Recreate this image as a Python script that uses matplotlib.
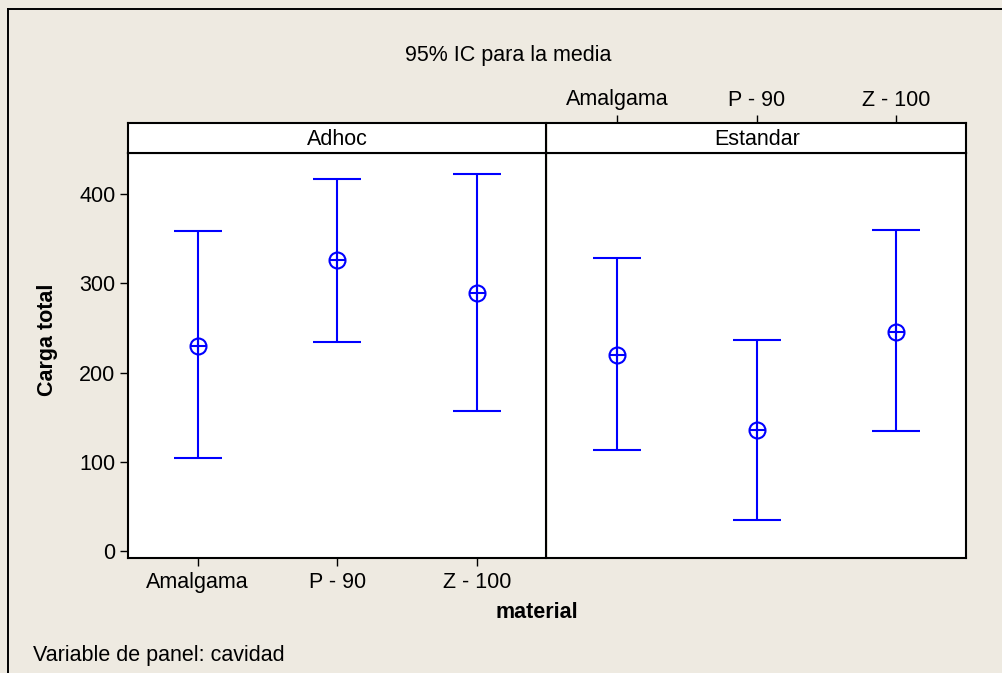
import matplotlib.pyplot as plt
from matplotlib.lines import Line2D

plt.rcParams['font.family'] = ['Liberation Sans', 'DejaVu Sans']

# data
materials = ["Amalgama", "P - 90", "Z - 100"]
panels = ["Adhoc", "Estandar"]
means_adhoc = [230, 326, 289]
lower_adhoc = [104, 235, 157]
upper_adhoc = [359, 417, 423]
means_estandar = [220, 136, 246]
lower_estandar = [113, 35, 135]
upper_estandar = [329, 237, 360]

bg = "#eeeae1"
blue = "#0000ff"
W, H = 1003, 673

fig = plt.figure(figsize=(W / 100, H / 100), dpi=100, facecolor=bg)

def fx(px):
    return px / W

def fy(py):
    return 1 - py / H

# frame lines at top and left of the figure
fig.add_artist(Line2D([fx(8), 1], [fy(8.5), fy(8.5)], color="black", lw=1.4))
fig.add_artist(Line2D([fx(8), fx(8)], [fy(8.5), 0], color="black", lw=1.4))

ax_bottom, ax_top = 558, 152.5
strip_top = 123
lefts = [128, 547.5]
width = 418.5

x = list(range(len(materials)))
data = [(means_adhoc, lower_adhoc, upper_adhoc),
        (means_estandar, lower_estandar, upper_estandar)]

for i, name in enumerate(panels):
    ax = fig.add_axes([fx(lefts[i]), fy(ax_bottom), fx(width), fy(ax_top) - fy(ax_bottom)])
    ax.set_facecolor("white")
    m, lo, up = data[i]
    yerr = [[m[k] - lo[k] for k in x], [up[k] - m[k] for k in x]]
    ax.errorbar(x, m, yerr=yerr, fmt="none", ecolor=blue, elinewidth=1.5,
                capsize=17, capthick=1.5)
    ax.plot(x, m, "o", mfc="none", mec=blue, ms=11.5, mew=1.5)
    ax.plot(x, m, "+", color=blue, ms=11.5, mew=1.5)
    ax.set_xlim(-0.5, 2.5)
    ax.set_ylim(-7.5, 446.7)
    for s in ax.spines.values():
        s.set_linewidth(1.5)
    if i == 0:
        ax.set_yticks([0, 100, 200, 300, 400])
        ax.tick_params(axis="y", length=6, width=1, labelsize=15.5, pad=3)
        ax.set_xticks(x)
        ax.set_xticklabels(materials)
        ax.tick_params(axis="x", length=6, width=1, labelsize=15.5, pad=4)
    else:
        ax.spines["left"].set_visible(False)
        ax.set_yticks([])
        ax.set_xticks([])

    # strip with panel name
    sx = fig.add_axes([fx(lefts[i]), fy(ax_top), fx(width), fy(strip_top) - fy(ax_top)])
    sx.set_facecolor("white")
    sx.set_xlim(-0.5, 2.5)
    sx.set_ylim(0, 1)
    sx.set_yticks([])
    for s in sx.spines.values():
        s.set_linewidth(1.5)
    sx.text(1, 0.45, name, ha="center", va="center", fontsize=15.5)
    if i == 1:
        sx.spines["left"].set_visible(False)
        sx.set_xticks(x)
        sx.set_xticklabels(materials)
        sx.tick_params(axis="x", bottom=False, labelbottom=False, top=True,
                       labeltop=True, length=6, width=1, labelsize=15.5, pad=3)
    else:
        sx.set_xticks([])

fig.text(fx(508), fy(56), "95% IC para la media", ha="center", va="center", fontsize=15.5)
fig.text(fx(48), fy(340), "Carga total", ha="center", va="center", rotation=90,
         fontsize=15.5, fontweight="bold")
fig.text(fx(537), fy(612), "material", ha="center", va="center", fontsize=15.5,
         fontweight="bold")
fig.text(fx(33), fy(655), "Variable de panel: cavidad", ha="left", va="center", fontsize=15.5)

fig.savefig("out.png", dpi=100, facecolor=bg)
